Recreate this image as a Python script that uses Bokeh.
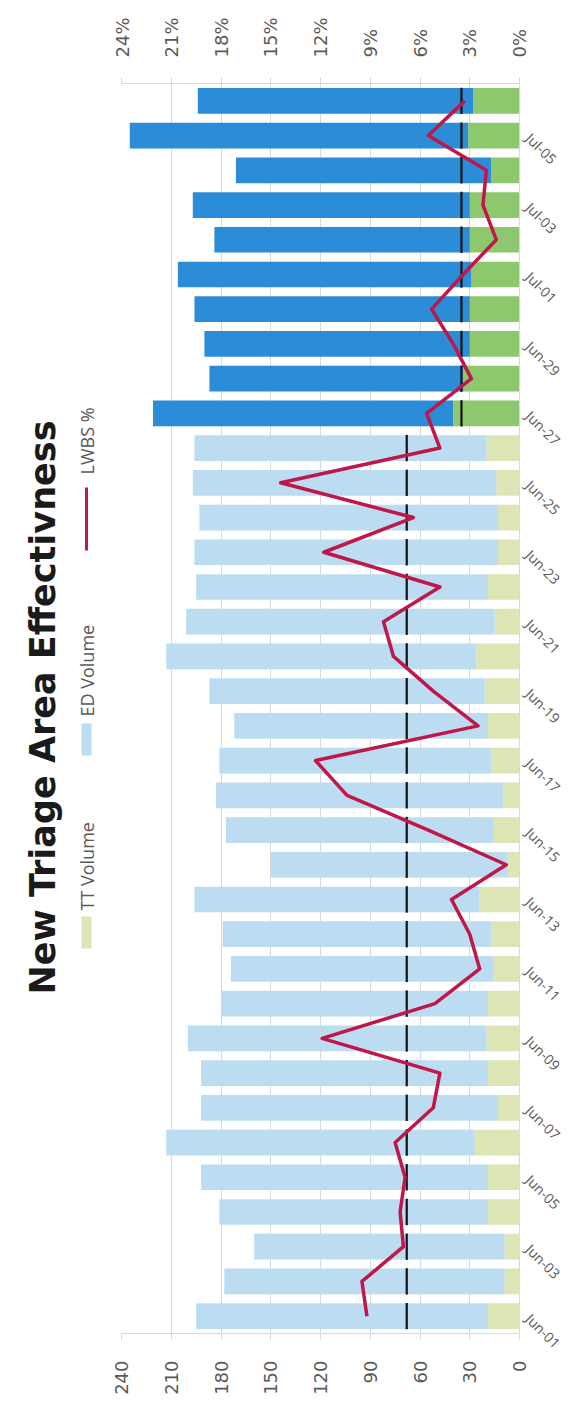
import math
from bokeh.plotting import figure
from bokeh.layouts import row
from bokeh.models import (ColumnDataSource, FactorRange, Range1d, LinearAxis, CategoricalAxis,
                          SingleIntervalTicker, NumeralTickFormatter, CustomJSTickFormatter)
from bokeh.embed import file_html
from bokeh.resources import INLINE
from bokeh.core.properties import value

# ---------------- data ----------------
dates = ["Jun-%02d" % d for d in range(1, 31)] + ["Jul-%02d" % d for d in range(1, 7)]
tt_volume = [19, 9, 9, 19, 19, 27, 13, 19, 20, 19, 16, 17, 24, 7, 16, 10, 17, 19, 21, 26,
             15, 19, 13, 13, 14, 20, 40, 34, 30, 30, 29, 30, 30, 17, 31, 28]
total_volume = [195, 178, 160, 181, 192, 213, 192, 192, 200, 180, 174, 179, 196, 150, 177, 183,
                181, 172, 187, 213, 201, 195, 196, 193, 197, 196, 221, 187, 190, 196, 206, 184,
                197, 171, 235, 194]
ed_volume = [t - a for t, a in zip(total_volume, tt_volume)]
lwbs_pct = [9.2, 9.5, 7.0, 7.2, 6.9, 7.5, 5.2, 4.8, 11.9, 5.1, 2.4, 3.0, 4.1, 0.8, 5.5, 10.4,
            12.3, 2.5, 5.2, 7.6, 8.2, 4.8, 11.8, 6.4, 14.4, 4.8, 5.6, 2.9, 4.0, 5.3, 3.4, 1.4,
            2.2, 2.0, 5.5, 3.3]
target_pct = [6.8] * 26 + [3.5] * 10
phase = ["before"] * 26 + ["after"] * 10
label_dates = dates[::2]
title_text = "New Triage Area Effectivness"
legend_names = ["TT Volume", "ED Volume", "LWBS %"]

# ---------------- styles ----------------
ED_COL = {"before": "#bcdcf2", "after": "#2b8cd8"}
TT_COL = {"before": "#dde5b4", "after": "#8ec86e"}
LINE_COL = "#c0174a"
GRID_COL = "#d9d9d9"
TXT_COL = "#595959"

H = 1425
FRAME_TOP, FRAME_BOTTOM = 83, 92

src = ColumnDataSource(dict(
    date=dates,
    tt=tt_volume,
    ed=ed_volume,
    total=total_volume,
    lwbs=[v / 100.0 for v in lwbs_pct],
    target=[v / 100.0 for v in target_pct],
    ed_color=[ED_COL[ph] for ph in phase],
    tt_color=[TT_COL[ph] for ph in phase],
))

# ---------------- main chart ----------------
p = figure(width=464, height=H, y_range=FactorRange(*dates), x_range=Range1d(240, 0),
           output_backend="svg", toolbar_location=None, y_axis_location=None,
           min_border_left=10, min_border_right=56,
           min_border_top=FRAME_TOP, min_border_bottom=FRAME_BOTTOM)
p.extra_x_ranges = {"pct": Range1d(0.24, 0)}
p.outline_line_color = None

p.hbar(y="date", left=0, right="tt", height=0.74, fill_color="tt_color", line_color=None, source=src)
p.hbar(y="date", left="tt", right="total", height=0.74, fill_color="ed_color", line_color=None, source=src)

p.rect(x="target", y="date", width=2.2, width_units="screen", height=0.76, x_range_name="pct",
       fill_color="#111111", line_color=None, source=src)

p.line(x="lwbs", y="date", x_range_name="pct", line_color=LINE_COL, line_width=3.5,
       line_join="round", source=src)

def style_axis(a, standoff):
    a.major_label_text_font = "DejaVu Sans"
    a.major_label_text_font_size = "18px"
    a.major_label_text_color = TXT_COL
    a.major_label_standoff = standoff
    a.axis_line_color = GRID_COL
    a.major_tick_line_color = GRID_COL
    a.major_tick_out = 6
    a.major_tick_in = 0
    a.minor_tick_line_color = None

ax = p.xaxis[0]
ax.ticker = SingleIntervalTicker(interval=30)
ax.major_label_orientation = math.pi / 2
style_axis(ax, 21)

ax2 = LinearAxis(x_range_name="pct", ticker=SingleIntervalTicker(interval=0.03),
                 formatter=NumeralTickFormatter(format="0%"))
ax2.major_label_orientation = math.pi / 2
style_axis(ax2, 20)
p.add_layout(ax2, "above")

# category axis (every other date labelled)
cax = CategoricalAxis(formatter=CustomJSTickFormatter(
    args=dict(shown=label_dates),
    code="return shown.includes(tick) ? tick : '';"))
cax.major_label_orientation = -math.pi / 4
cax.major_label_text_font = "Open Sans"
cax.major_label_text_font_size = "14px"
cax.major_label_text_color = TXT_COL
cax.major_label_standoff = 9
cax.axis_line_color = GRID_COL
cax.major_tick_line_color = None
cax.major_tick_out = 0
cax.major_tick_in = 0
cax.minor_tick_line_color = None
p.add_layout(cax, "right")

p.xgrid.grid_line_color = GRID_COL
p.ygrid.grid_line_color = None

# ---------------- left strip: title + legend ----------------
# (its plotting frame is aligned with the main chart frame, rows 83..1333 of the page)
left = figure(width=111, height=H, x_range=Range1d(0, 111), y_range=Range1d(H - FRAME_BOTTOM, FRAME_TOP),
              output_backend="svg", toolbar_location=None, x_axis_location=None, y_axis_location=None,
              min_border_left=0, min_border_right=0,
              min_border_top=FRAME_TOP, min_border_bottom=FRAME_BOTTOM)
left.outline_line_color = None
left.xgrid.grid_line_color = None
left.ygrid.grid_line_color = None

left.text(x=[42], y=[707], text=[title_text], angle=math.pi / 2, text_align="center",
          text_baseline="middle", text_font=value("DejaVu Sans"), text_font_style="bold",
          text_font_size="35px", text_color="#1a1a1a")

leg_src = ColumnDataSource(dict(name=legend_names, y=[910, 716, 474]))
left.text(x=86, y="y", text="name", source=leg_src, angle=math.pi / 2, text_align="left",
          text_baseline="middle", text_font=value("Open Sans"), text_font_size="18px",
          text_color=TXT_COL)
left.quad(left=[81, 81], right=[91, 91], top=[916, 723], bottom=[948, 755],
          fill_color=[TT_COL["before"], ED_COL["before"]], line_color=None)
left.quad(left=[84.5], right=[87.5], top=[487], bottom=[550], fill_color=LINE_COL, line_color=None)

layout = row(left, p)
open("out.html", "w").write(file_html(layout, INLINE))
